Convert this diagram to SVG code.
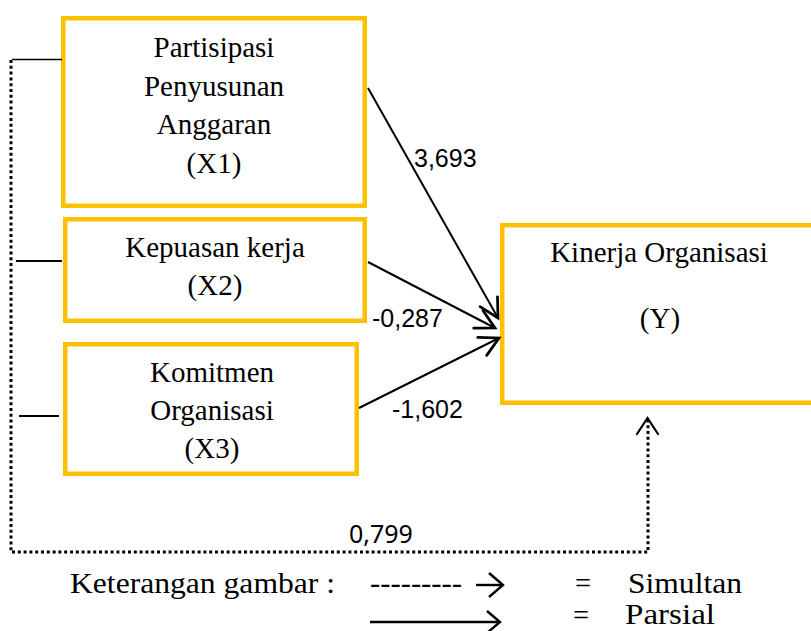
<svg xmlns="http://www.w3.org/2000/svg" width="811" height="631" viewBox="0 0 811 631">
<style>
.box{fill:#fff;stroke:#FFC000;stroke-width:4.5}
.t{font-family:"Liberation Serif","Times New Roman",serif;font-size:29px;fill:#000;text-anchor:middle}
.lg{font-family:"Liberation Serif","Times New Roman",serif;font-size:28.5px;fill:#000}
.n{font-family:"Liberation Sans",Arial,sans-serif;font-size:25px;fill:#000}
.sol{stroke:#000;stroke-width:2;fill:none}
.dot{stroke:#000;stroke-width:3;fill:none;stroke-dasharray:3 2.8}
.ah{stroke:#000;stroke-width:2.2;fill:none;stroke-linecap:round;stroke-linejoin:miter}
</style>
<defs>
<marker id="open" markerUnits="userSpaceOnUse" markerWidth="30" markerHeight="30" viewBox="-20 -12 24 24" refX="0" refY="0" orient="auto" overflow="visible">
<path d="M-15,-8 L0,0 L-15,8" class="ah"/>
</marker>
</defs>
<rect width="811" height="631" fill="#fff"/>
<g id="node-x1">
<rect class="box" x="63.25" y="18.25" width="301.5" height="187.5"/>
<text class="t" x="214" y="57">Partisipasi</text>
<text class="t" x="214" y="96">Penyusunan</text>
<text class="t" x="214" y="134">Anggaran</text>
<text class="t" x="214" y="173">(X1)</text>
</g>
<g id="node-x2">
<rect class="box" x="65.25" y="219.25" width="299.5" height="101.5"/>
<text class="t" x="215" y="257">Kepuasan kerja</text>
<text class="t" x="215" y="295">(X2)</text>
</g>
<g id="node-x3">
<rect class="box" x="65.25" y="344.25" width="291.5" height="129.5"/>
<text class="t" x="212" y="382">Komitmen</text>
<text class="t" x="212" y="420">Organisasi</text>
<text class="t" x="212" y="458">(X3)</text>
</g>
<g id="node-y">
<rect class="box" x="502.25" y="225.25" width="340" height="177.5"/>
<text class="t" x="659" y="262">Kinerja Organisasi</text>
<text class="t" x="660" y="328">(Y)</text>
</g>
<g id="connectors">
<line class="sol" x1="368" y1="88" x2="498" y2="318" marker-end="url(#open)"/>
<line class="sol" x1="368" y1="262" x2="495" y2="328" marker-end="url(#open)"/>
<line class="sol" x1="359" y1="408" x2="499" y2="338" marker-end="url(#open)"/>
<line x1="12" y1="59.5" x2="62" y2="59.5" stroke="#000" stroke-width="1.3"/>
<line x1="16" y1="261" x2="62" y2="261" stroke="#000" stroke-width="2"/>
<line x1="19" y1="416" x2="59" y2="416" stroke="#000" stroke-width="2"/>
<polyline class="dot" points="11,60 11,552 648,552 648,420"/>
<path class="ah" d="M637,434 L647.5,418 L658,434"/>
<text class="n" x="414" y="167">3,693</text>
<text class="n" x="372" y="327">-0,287</text>
<text class="n" x="392" y="418">-1,602</text>
<text font-family="'Noto Sans','Open Sans',sans-serif" font-size="25" x="349" y="543">0,799</text>
</g>
<g id="legend">
<text class="lg" x="70" y="592.5" textLength="265" lengthAdjust="spacingAndGlyphs">Keterangan gambar :</text>
<text class="lg" x="370" y="592.5" textLength="92" lengthAdjust="spacingAndGlyphs">---------</text>
<line x1="476" y1="585" x2="502" y2="585" stroke="#000" stroke-width="2.4"/>
<path d="M489,573 L503,585 L489,597" stroke="#000" stroke-width="2.4" fill="none"/>
<text class="lg" x="575" y="592.5" textLength="16" lengthAdjust="spacingAndGlyphs">=</text>
<text class="lg" x="628" y="592.5" textLength="114" lengthAdjust="spacingAndGlyphs">Simultan</text>
<line x1="370" y1="622" x2="498" y2="622" stroke="#000" stroke-width="2.4"/>
<path d="M487,611 L500,622 L487,633" stroke="#000" stroke-width="2.4" fill="none"/>
<text class="lg" x="573" y="625" font-size="25" textLength="16" lengthAdjust="spacingAndGlyphs">=</text>
<text class="lg" x="625" y="624" font-size="28" textLength="90" lengthAdjust="spacingAndGlyphs">Parsial</text>
</g>
</svg>
